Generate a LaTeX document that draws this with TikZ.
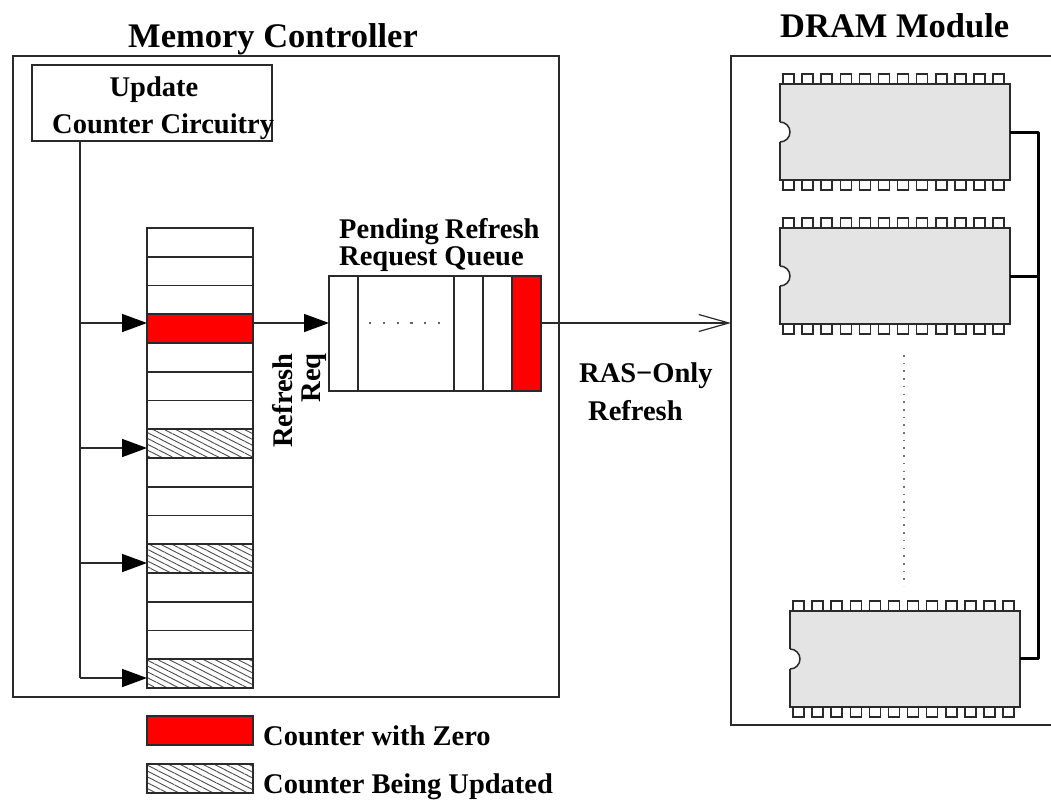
\documentclass[tikz,border=0pt]{standalone}
\usepackage{fontspec}
\setmainfont{Liberation Serif}
\usetikzlibrary{arrows.meta,patterns.meta}
\definecolor{chipgray}{HTML}{E4E4E4}
\definecolor{ink}{HTML}{2A2A2A}
\tikzset{
  x=1pt,y=1pt,
  box/.style={draw=ink,line width=1.8pt,inner sep=0pt,outer sep=0pt,anchor=north west},
  cellbox/.style={box,minimum width=106pt,minimum height=28.75pt,fill=white},
  redcell/.style={cellbox,fill=red},
  hatchcell/.style={cellbox,pattern={Lines[angle=-27,distance=5.2pt,line width=0.9pt]},pattern color=black!70},
  slot/.style={box,minimum height=115pt,fill=white},
  chipbody/.style={box,fill=chipgray,minimum width=230pt,minimum height=96pt},
  pin/.style={draw=ink,line width=1.5pt,fill=white},
  wire/.style={draw=ink,line width=1.6pt},
  busline/.style={draw=black,line width=3pt,line join=round},
  solidarr/.style={wire,-{Triangle[length=25pt,width=18pt,color=black]}},
  openarr/.style={wire,-{Straight Barb[length=30pt,width=17pt,line width=1.2pt]}},
  big/.style={font=\fontsize{34.5}{36}\selectfont\bfseries,inner sep=0pt,text=black},
  lab/.style={font=\fontsize{28.5}{30}\selectfont\bfseries,inner sep=0pt,text=black},
}
\newcommand{\chipat}[3]{%
  \foreach \i in {0,...,11} {
    \draw[pin] (#2+3+19.1*\i,-#3) -- ++(0,10) -- ++(11,0) -- ++(0,-10);
    \draw[pin] (#2+3+19.1*\i,-#3-96) -- ++(0,-10) -- ++(11,0) -- ++(0,10);
  }
  \node[chipbody] (#1) at (#2,-#3) {};
  \fill[white] (#2-1,-#3-38) rectangle (#2,-#3-58);
  \draw[pin] (#2,-#3-38) arc[start angle=90,end angle=-90,radius=10pt];
}
\begin{document}
\begin{tikzpicture}
\clip (0,0) rectangle (1051,-801);
\fill[white] (0,0) rectangle (1051,-801);

% frames
\node[box,minimum width=546pt,minimum height=641pt] (mc) at (13,-56) {};
\node[box,minimum width=340pt,minimum height=669pt] (dram) at (731,-56) {};
\node[box,minimum width=240pt,minimum height=76pt] (upd) at (32,-65) {};

% titles
\node[big,anchor=base west] (mctitle) at (128,-47) {Memory Controller};
\node[big,anchor=base west] (dramtitle) at (780,-37) {DRAM Module};
\node[lab,anchor=base] (updA) at (154,-96) {Update};
\node[lab,anchor=base west] (updB) at (52,-133) {Counter Circuitry};

% counter column
\foreach \n/\st in {0/cellbox,1/cellbox,2/cellbox,3/redcell,4/cellbox,5/cellbox,6/cellbox,7/hatchcell,8/cellbox,9/cellbox,10/cellbox,11/hatchcell,12/cellbox,13/cellbox,14/cellbox,15/hatchcell} {
  \node[\st] (c\n) at (147,{-228-28.75*\n}) {};
}

% trunk and arrows
\coordinate (trunk) at (80,-678);
\coordinate (aA) at (147,-323);
\coordinate (aB) at (147,-448);
\coordinate (aC) at (147,-563);
\coordinate (aD) at (147,-678);
\draw[wire] (trunk |- upd.south) -- (trunk);
\draw[solidarr] (trunk |- aA) -- (aA);
\draw[solidarr] (trunk |- aB) -- (aB);
\draw[solidarr] (trunk |- aC) -- (aC);
\draw[solidarr] (trunk) -- (aD);

% pending queue
\node[slot,minimum width=29pt] (q0) at (329,-276) {};
\node[slot,minimum width=96pt] (q1) at (358,-276) {};
\node[slot,minimum width=29pt] (q2) at (454,-276) {};
\node[slot,minimum width=29pt] (q3) at (483,-276) {};
\node[slot,minimum width=29pt,fill=red] (q4) at (512,-276) {};
\coordinate (qin) at (329,-323);
\coordinate (qout) at (541,-323);
\coordinate (dramin) at (731,-323);
\draw[solidarr] (c3.east |- qin) -- (qin);
\draw[openarr] (qout) -- (dramin);
\draw[draw=black!60,line width=2.2pt,dash pattern=on 2.2pt off 11.6pt] (369,-323) -- (441,-323);

\node[lab,anchor=base west] (qA) at (339,-238) {Pending\hspace{6pt}Refresh};
\node[lab,anchor=base west] (qB) at (339,-265) {Request Queue};
\node[lab,anchor=base east,rotate=90] (rA) at (292,-353) {Refresh};
\node[lab,anchor=base east,rotate=90] (rB) at (320,-353) {Req};
\node[lab,anchor=base west] (rasA) at (579,-382) {RAS−Only};
\node[lab,anchor=base west] (rasB) at (588,-420) {Refresh};

% chips
\chipat{chipA}{780}{84}
\chipat{chipB}{780}{228}
\chipat{chipC}{790}{611}
\coordinate (busT) at (1038,-132);
\coordinate (busM) at (1038,-276);
\coordinate (busB) at (1038,-658.5);
\draw[busline] (chipA.east) -- (busT) -- (busB) -- (chipC.east |- busB);
\draw[busline] (chipB.east) -- (busM);
\coordinate (vdA) at (904,-355);
\coordinate (vdB) at (904,-586);
\draw[draw=black!55,line width=1.6pt,dash pattern=on 1.6pt off 6.1pt] (vdA) -- (vdB);

% legend
\node[redcell] (legA) at (147,-716) {};
\node[hatchcell] (legB) at (147,-764) {};
\node[lab,anchor=base west] (legAt) at (263,-745) {Counter with Zero};
\node[lab,anchor=base west] (legBt) at (263,-793) {Counter Being Updated};
\end{tikzpicture}
\end{document}
